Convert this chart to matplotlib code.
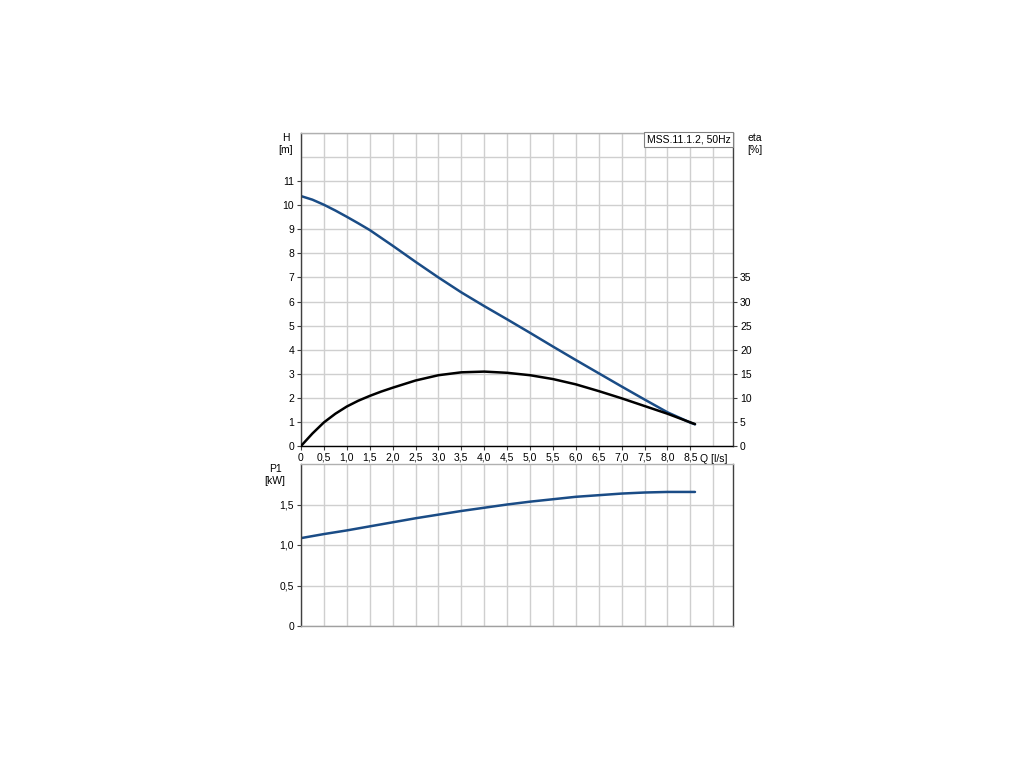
import matplotlib
matplotlib.use("Agg")
import matplotlib.pyplot as plt

plt.rcParams['font.family'] = ['Liberation Sans', 'DejaVu Sans']

# Data
q_h = [0.0, 0.25, 0.5, 0.75, 1.0, 1.25, 1.5, 2.0, 2.5, 3.0, 3.5, 4.0, 4.5, 5.0, 5.5, 6.0, 6.5, 7.0, 7.5, 8.0, 8.5, 8.6]
head = [10.38, 10.23, 10.02, 9.78, 9.52, 9.25, 8.97, 8.32, 7.65, 7.0, 6.38, 5.81, 5.26, 4.7, 4.13, 3.57, 3.02, 2.47, 1.93, 1.4, 0.97, 0.9]

q_eta = [0.0, 0.25, 0.5, 0.75, 1.0, 1.25, 1.5, 1.75, 2.0, 2.5, 3.0, 3.5, 4.0, 4.5, 5.0, 5.5, 6.0, 6.5, 7.0, 7.5, 8.0, 8.5, 8.6]
eta = [0.0, 2.6, 4.9, 6.7, 8.2, 9.4, 10.4, 11.3, 12.1, 13.6, 14.7, 15.3, 15.45, 15.2, 14.7, 13.9, 12.8, 11.4, 9.9, 8.3, 6.7, 4.9, 4.55]

q_p = [0.0, 0.5, 1.0, 1.5, 2.0, 2.5, 3.0, 3.5, 4.0, 4.5, 5.0, 5.5, 6.0, 6.5, 7.0, 7.5, 8.0, 8.5, 8.6]
p1 = [1.085, 1.135, 1.18, 1.23, 1.28, 1.33, 1.375, 1.42, 1.46, 1.50, 1.535, 1.565, 1.595, 1.615, 1.635, 1.648, 1.655, 1.655, 1.655]

q_ticks = [0, 0.5, 1.0, 1.5, 2.0, 2.5, 3.0, 3.5, 4.0, 4.5, 5.0, 5.5, 6.0, 6.5, 7.0, 7.5, 8.0, 8.5]
q_labels = ["0", "0,5", "1,0", "1,5", "2,0", "2,5", "3,0", "3,5", "4,0", "4,5", "5,0", "5,5", "6,0", "6,5", "7,0", "7,5", "8,0", "8,5"]
h_ticks = list(range(0, 12))
eta_ticks = [0, 5, 10, 15, 20, 25, 30, 35]
p_ticks = [0, 0.5, 1.0, 1.5]
p_labels = ["0", "0,5", "1,0", "1,5"]
title_text = "MSS.11.1.2, 50Hz"

blue = "#1a4c86"
grid_c = "#cfcfcf"
dark = "#404040"
fs = 7.5

fig = plt.figure(figsize=(10.24, 7.68), dpi=100)
ax = fig.add_axes([301/1024, 1-446/768, 432/1024, 313/768])
axb = fig.add_axes([301/1024, 1-626/768, 432/1024, 162/768])

XMAX = 9.43
for a in (ax, axb):
    a.set_xlim(0, XMAX)
    a.set_xticks(q_ticks)
    a.set_xticks([9.0], minor=True)
    a.grid(True, which='both', color=grid_c, linewidth=1.0)
    a.set_axisbelow(True)
    a.tick_params(which='minor', length=0)
    a.tick_params(which='major', labelsize=fs, length=3, width=0.8, color=dark, pad=2)
    for s in a.spines.values():
        s.set_linewidth(1.0)

# Top axes
ax.set_ylim(0, 13)
ax.set_yticks(h_ticks)
ax.set_yticks([12, 13], minor=True)
ax.set_xticklabels(q_labels)
ax.spines['left'].set_color(dark)
ax.spines['bottom'].set_color('black')
ax.spines['right'].set_color(dark)
ax.spines['top'].set_color('#b0b0b0')
ax.plot(q_h, head, color=blue, linewidth=1.8, solid_capstyle='round')

ax2 = ax.twinx()
ax2.set_ylim(0, 65)
ax2.set_yticks(eta_ticks)
ax2.tick_params(labelsize=fs, length=3, width=0.8, color=dark, pad=2)
for s in ax2.spines.values():
    s.set_visible(False)
ax2.plot(q_eta, eta, color='black', linewidth=1.8, solid_capstyle='round')

ax.text(-0.035, 1.0, "H\n[m]", transform=ax.transAxes, ha='center', va='top', fontsize=fs, linespacing=1.2)
ax2.text(1.05, 1.0, "eta\n[%]", transform=ax.transAxes, ha='center', va='top', fontsize=fs, linespacing=1.2)
ax.text(9.0, -0.35, "Q [l/s]", ha='center', va='top', fontsize=fs)
ax.text(0.995, 0.995, title_text, transform=ax.transAxes, ha='right', va='top', fontsize=fs,
        bbox=dict(boxstyle='square,pad=0.25', facecolor='white', edgecolor='#808080', linewidth=0.8),
        zorder=10)

# Bottom axes
axb.set_ylim(0, 2.0)
axb.set_yticks(p_ticks)
axb.set_yticklabels(p_labels)
axb.set_xticklabels([])
axb.tick_params(axis='x', length=0)
axb.spines['left'].set_color(dark)
axb.spines['right'].set_color(dark)
axb.spines['top'].set_color('#b0b0b0')
axb.spines['bottom'].set_color('#a0a0a0')
axb.plot(q_p, p1, color=blue, linewidth=1.8, solid_capstyle='round')
axb.text(-0.06, 1.0, "P1\n[kW]", transform=axb.transAxes, ha='center', va='top', fontsize=fs, linespacing=1.2)

fig.savefig("out.png", dpi=100)
